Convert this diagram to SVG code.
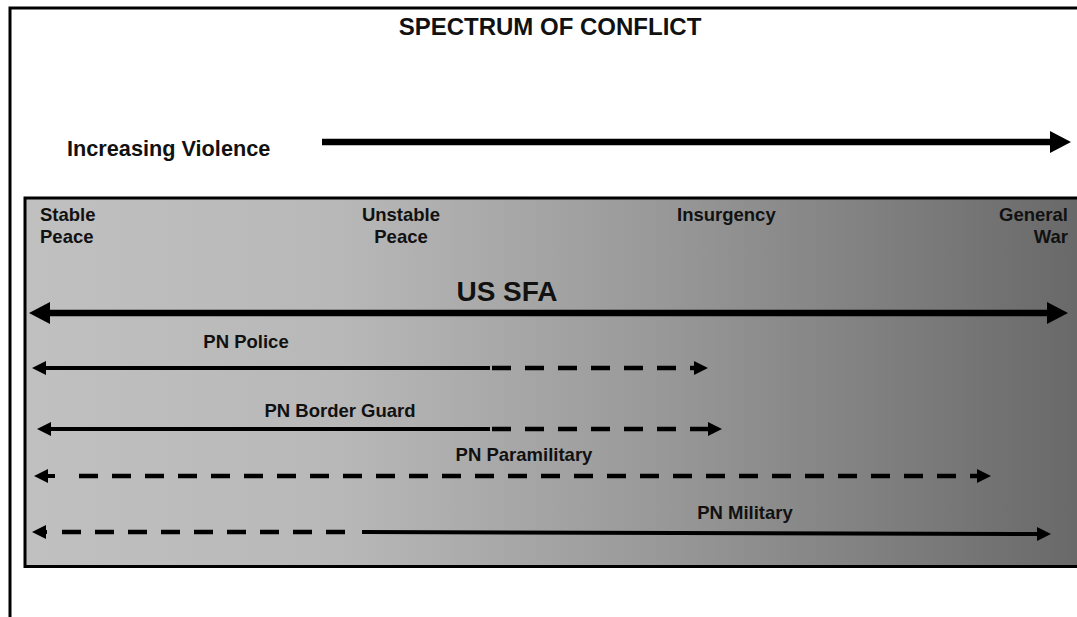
<svg xmlns="http://www.w3.org/2000/svg" width="1077" height="617" viewBox="0 0 1077 617">
  <style>
    text { font-family: "Liberation Sans", Arial, sans-serif; font-weight: bold; fill: #111; }
    .lbl { font-size: 18.5px; }
    .ln { stroke: #000; fill: none; stroke-width: 4; }
    .dash { stroke-dasharray: 19 14; stroke-width: 4.5; }
    .thick { stroke-width: 6.5; }
  </style>
  <defs>
    <linearGradient id="bg" gradientUnits="userSpaceOnUse" x1="25" y1="0" x2="1077" y2="0">
      <stop offset="0" stop-color="#c0c0c0"/>
      <stop offset="0.3" stop-color="#b8b8b8"/>
      <stop offset="0.6" stop-color="#999999"/>
      <stop offset="1" stop-color="#696969"/>
    </linearGradient>
    <marker id="bigHead" markerUnits="userSpaceOnUse" markerWidth="24" markerHeight="24" refX="1" refY="11" orient="auto-start-reverse">
      <path d="M0,0 L21,11 L0,22 z" fill="#000"/>
    </marker>
    <marker id="smallHead" markerUnits="userSpaceOnUse" markerWidth="16" markerHeight="16" refX="1" refY="7" orient="auto-start-reverse">
      <path d="M0,0 L14,7 L0,14 z" fill="#000"/>
    </marker>
  </defs>

  <rect width="1077" height="617" fill="#fff"/>

  <!-- outer frame -->
  <g id="frame">
    <path d="M10,617 V8 H1080" fill="none" stroke="#000" stroke-width="3"/>
  </g>

  <g id="title">
    <text x="550" y="35" font-size="24" text-anchor="middle">SPECTRUM OF CONFLICT</text>
  </g>

  <g id="violence">
    <text x="67" y="156" font-size="21.7">Increasing Violence</text>
  </g>

  <!-- spectrum panel -->
  <g id="panel">
    <rect x="25" y="198" width="1070" height="368.5" fill="url(#bg)" stroke="#000" stroke-width="3"/>
  </g>

  <g id="stable-peace">
    <text class="lbl" x="40" y="221">Stable</text>
    <text class="lbl" x="40" y="243">Peace</text>
  </g>
  <g id="unstable-peace">
    <text class="lbl" x="401" y="221" text-anchor="middle">Unstable</text>
    <text class="lbl" x="401" y="243" text-anchor="middle">Peace</text>
  </g>
  <g id="insurgency">
    <text class="lbl" x="677" y="221">Insurgency</text>
  </g>
  <g id="general-war">
    <text class="lbl" x="1068" y="221" text-anchor="end">General</text>
    <text class="lbl" x="1068" y="243" text-anchor="end">War</text>
  </g>

  <g id="us-sfa">
    <text x="507" y="301" font-size="28" text-anchor="middle">US SFA</text>
  </g>
  <g id="pn-police">
    <text class="lbl" x="246" y="348" text-anchor="middle">PN Police</text>
  </g>
  <g id="pn-border-guard">
    <text class="lbl" x="340" y="417" text-anchor="middle">PN Border Guard</text>
  </g>
  <g id="pn-paramilitary">
    <text class="lbl" x="524" y="461" text-anchor="middle">PN Paramilitary</text>
  </g>
  <g id="pn-military">
    <text class="lbl" x="745" y="519" text-anchor="middle">PN Military</text>
  </g>

  <!-- connectors -->
  <g id="connectors">
    <path class="ln thick" d="M322,142 H1051" marker-end="url(#bigHead)"/>
    <path class="ln thick" d="M49,313 H1048" marker-start="url(#bigHead)" marker-end="url(#bigHead)"/>

    <path class="ln" d="M45,368 H490" marker-start="url(#smallHead)"/>
    <path class="ln dash" d="M492,368 H695" marker-end="url(#smallHead)"/>

    <path class="ln" d="M50,429 H490" marker-start="url(#smallHead)"/>
    <path class="ln dash" d="M492,429 H709" marker-end="url(#smallHead)"/>

    <path class="ln" d="M47,476 H55" marker-start="url(#smallHead)"/>
    <path class="ln dash" d="M79,476 H978" marker-end="url(#smallHead)"/>

    <path class="ln" d="M45,532 H47" marker-start="url(#smallHead)"/>
    <path class="ln dash" d="M62,532 H350" />
    <path class="ln" d="M362,532 L1038,534" marker-end="url(#smallHead)"/>
  </g>
</svg>
